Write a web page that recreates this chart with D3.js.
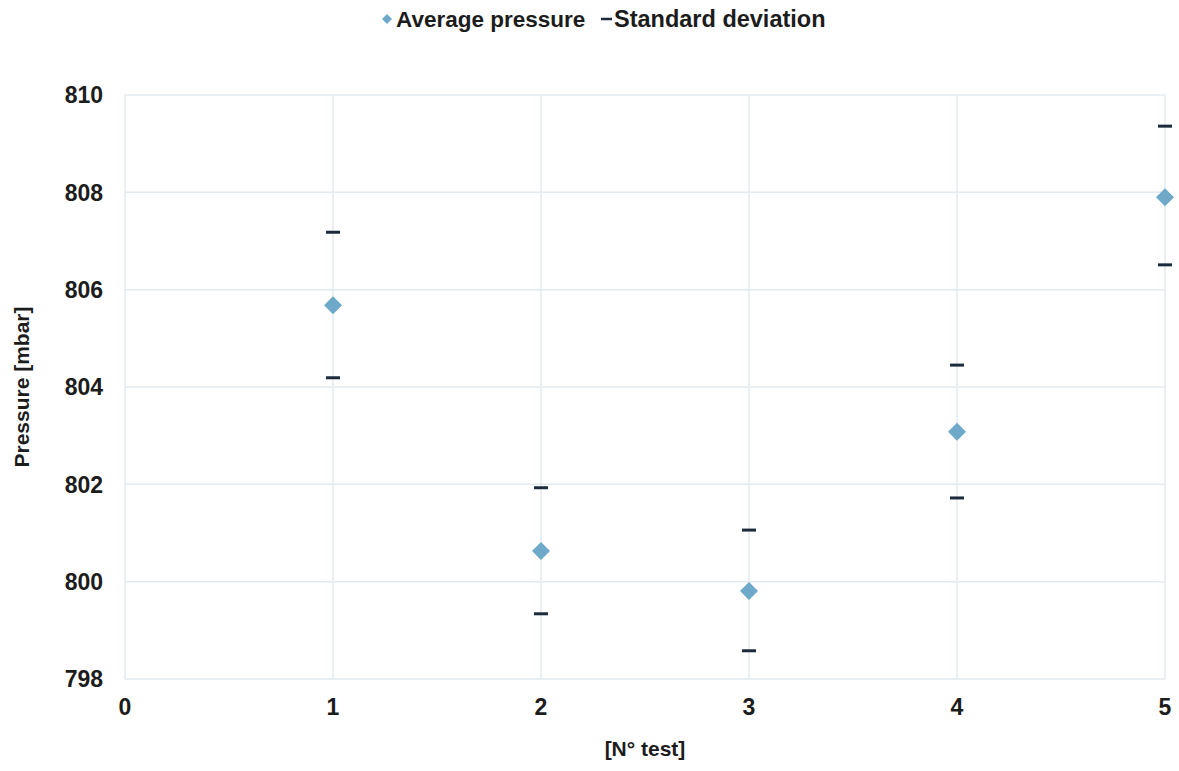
<!DOCTYPE html>
<html>
<head>
<meta charset="utf-8">
<script src="https://cdn.jsdelivr.net/npm/d3@7"></script>
<style>
  html, body { margin: 0; padding: 0; background: #ffffff; }
  svg { display: block; }
  text { font-family: "Liberation Sans", Arial, sans-serif; font-weight: bold; fill: #1c1c1c; }
</style>
</head>
<body>
<svg id="chart" width="1179" height="771"></svg>
<script>
// Test numbers
const tests = [1, 2, 3, 4, 5];
// Mean pressure per test [mbar]
const avgPressure = [805.68, 800.63, 799.81, 803.08, 807.90];
// Mean + one standard deviation [mbar]
const sdUpper = [807.18, 801.93, 801.06, 804.45, 809.36];
// Mean - one standard deviation [mbar]
const sdLower = [804.19, 799.34, 798.58, 801.72, 806.51];
// Axis ticks
const xTicks = [0, 1, 2, 3, 4, 5];
const yTicks = [798, 800, 802, 804, 806, 808, 810];

const svg = d3.select("#chart");
const margin = { left: 125, right: 14, top: 95, bottom: 92 };
const W = 1179, H = 771;

const x = d3.scaleLinear().domain([0, 5]).range([margin.left, W - margin.right]);
const y = d3.scaleLinear().domain([798, 810]).range([H - margin.bottom, margin.top]);

const gridColor = "#e3eaf0";

// Gridlines
svg.append("g").selectAll("line.h").data(yTicks).join("line")
  .attr("x1", x(0)).attr("x2", x(5))
  .attr("y1", d => y(d)).attr("y2", d => y(d))
  .attr("stroke", gridColor).attr("stroke-width", 1.5);
svg.append("g").selectAll("line.v").data(xTicks).join("line")
  .attr("x1", d => x(d)).attr("x2", d => x(d))
  .attr("y1", y(810)).attr("y2", y(798))
  .attr("stroke", gridColor).attr("stroke-width", 1.5);

// Y tick labels
svg.append("g").selectAll("text").data(yTicks).join("text")
  .attr("x", x(0) - 22).attr("y", d => y(d))
  .attr("dy", "0.36em").attr("text-anchor", "end")
  .style("font-size", "23px").text(d => d);

// X tick labels
svg.append("g").selectAll("text").data(xTicks).join("text")
  .attr("x", d => x(d)).attr("y", y(798) + 36)
  .attr("text-anchor", "middle")
  .style("font-size", "23px").text(d => d);

// Axis titles
svg.append("text")
  .attr("transform", `translate(29, ${(y(798) + y(810)) / 2}) rotate(-90)`)
  .attr("text-anchor", "middle").style("font-size", "21px")
  .text("Pressure [mbar]");
svg.append("text")
  .attr("x", (x(0) + x(5)) / 2).attr("y", 756)
  .attr("text-anchor", "middle").style("font-size", "21px")
  .text("[N° test]");

const diamond = r => `M0,${-r}L${r},0L0,${r}L${-r},0Z`;
const blue = "#6ea9c9";
const navy = "#1b2b3b";

// Standard deviation markers
const sdData = tests.flatMap((t, i) => [{ t, v: sdUpper[i] }, { t, v: sdLower[i] }]);
svg.append("g").selectAll("line").data(sdData).join("line")
  .attr("x1", d => x(d.t) - 7).attr("x2", d => x(d.t) + 7)
  .attr("y1", d => y(d.v)).attr("y2", d => y(d.v))
  .attr("stroke", navy).attr("stroke-width", 3);

// Average pressure markers
svg.append("g").selectAll("path").data(tests).join("path")
  .attr("transform", (t, i) => `translate(${x(t)},${y(avgPressure[i])})`)
  .attr("d", diamond(9))
  .attr("fill", blue);

// Legend
const lg = svg.append("g");
lg.append("path").attr("transform", "translate(387,19)").attr("d", diamond(5)).attr("fill", blue);
lg.append("text").attr("x", 396).attr("y", 27).style("font-size", "22.5px").text("Average pressure");
lg.append("line").attr("x1", 601).attr("x2", 612).attr("y1", 19).attr("y2", 19)
  .attr("stroke", navy).attr("stroke-width", 2.5);
lg.append("text").attr("x", 614).attr("y", 27).style("font-size", "23.5px")
  .text("Standard deviation");
</script>
</body>
</html>
